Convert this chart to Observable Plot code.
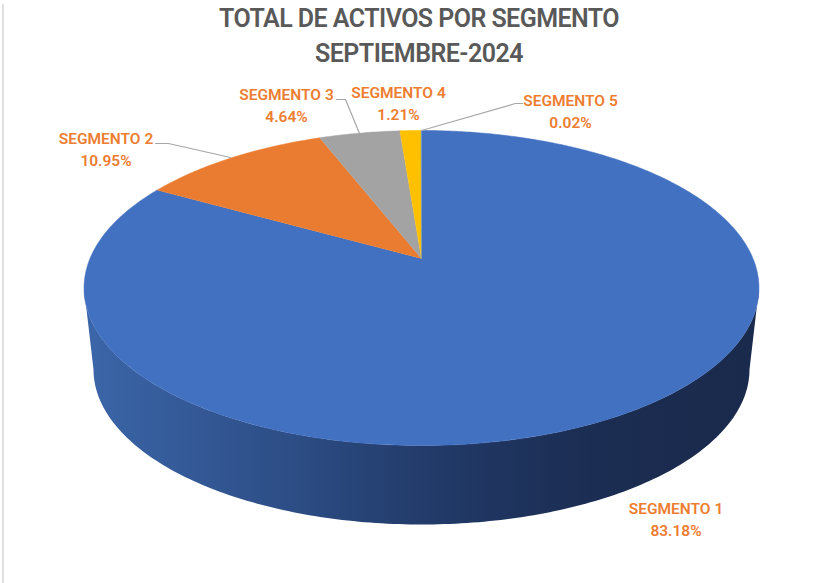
<!DOCTYPE html>
<html>
<head>
<meta charset="utf-8">
<script src="https://cdn.jsdelivr.net/npm/d3@7"></script>
<script src="https://cdn.jsdelivr.net/npm/@observablehq/plot@0.6"></script>
<style>
  html, body { margin: 0; padding: 0; background: #fff; }
  body { width: 838px; height: 583px; overflow: hidden; position: relative; }
  #edge { position: absolute; left: 2px; top: 4px; width: 2px; height: 579px; background: #e0e0e0; z-index: 2; }
  h1 { margin: 0; height: 70px; padding-top: 1px; box-sizing: border-box; text-align: center;
       font: 600 25px/35px Roboto, sans-serif; letter-spacing: -0.55px; color: #595959; }
  svg { display: block; }
</style>
</head>
<body>
<div id="edge"></div>
<h1>TOTAL DE ACTIVOS POR SEGMENTO<br>SEPTIEMBRE-2024</h1>
<div id="chart"></div>
<script>
// Data
const segments = ["SEGMENTO 1", "SEGMENTO 2", "SEGMENTO 3", "SEGMENTO 4", "SEGMENTO 5"];
const shares = [83.18, 10.95, 4.64, 1.21, 0.02];
const colors = ["#4371c1", "#e97c30", "#a3a3a3", "#ffc000", "#5b9bd5"];

// Layout of the tilted pie (page units)
const W = 838, H = 583, TOP = 70;
const apex = {x: 421, y: 258};
const A = 331.5, B = 152, K = 0.1873;             // perspective of the top face
const topRim = {cx: 421, cy: 287.5, rx: 337.5, ry: 157.5};
const botRim = {cx: 421, cy: 369, rx: 328, ry: 155};

const rimPoint = (theta) => {
  const w = 1 + K * Math.cos(theta);
  return [apex.x + A * Math.sin(theta) / w, apex.y - B * Math.cos(theta) / w];
};

// Top-face slices, built from the shares
const slicePoints = [];
let cumulative = 0;
segments.forEach((seg, i) => {
  const a0 = cumulative / 100 * 2 * Math.PI;
  cumulative += shares[i];
  const a1 = cumulative / 100 * 2 * Math.PI;
  const n = Math.max(2, Math.ceil((a1 - a0) * 80));
  slicePoints.push({seg, x: apex.x, y: apex.y});
  for (let k = 0; k <= n; ++k) {
    const [x, y] = rimPoint(a0 + (a1 - a0) * k / n);
    slicePoints.push({seg, x, y});
  }
});

// Side wall: front half of the top rim, back along the front half of the bottom rim
const wallPoints = [];
const STEPS = 180;
for (let k = 0; k <= STEPS; ++k) {
  const t = Math.PI * (1 - k / STEPS);
  wallPoints.push({x: topRim.cx + topRim.rx * Math.cos(t), y: topRim.cy + topRim.ry * Math.sin(t)});
}
for (let k = 0; k <= STEPS; ++k) {
  const t = Math.PI * k / STEPS;
  wallPoints.push({x: botRim.cx + botRim.rx * Math.cos(t), y: botRim.cy + botRim.ry * Math.sin(t)});
}

const wallStops = [[0, "#3b66a9"], [0.17, "#335895"], [0.32, "#2c4c84"], [0.47, "#243e6e"], [0.6, "#1f3560"], [0.75, "#1b2d52"], [1, "#1a2a4c"]];
const wallGradient = () => {
  const defs = d3.create("svg:defs");
  const g = defs.append("linearGradient").attr("id", "wallFill")
    .attr("gradientUnits", "userSpaceOnUse")
    .attr("x1", topRim.cx - topRim.rx).attr("x2", topRim.cx + topRim.rx)
    .attr("y1", 0).attr("y2", 0);
  wallStops.forEach(([o, c]) => g.append("stop").attr("offset", o).attr("stop-color", c));
  return defs.node();
};

// Labels and their leader lines
const labelAt = [
  {x: 675.5, y: 517.5}, {x: 105.5, y: 147.5}, {x: 286, y: 103.5}, {x: 398, y: 101.5}, {x: 570, y: 109}
];
const labels = segments.map((seg, i) => ({
  text: `${seg}\n${shares[i].toFixed(2)}%`, x: labelAt[i].x, y: labelAt[i].y
}));
const leaders = [
  {id: 2, x: 155, y: 143}, {id: 2, x: 168, y: 143}, {id: 2, x: 230, y: 157},
  {id: 3, x: 336, y: 99}, {id: 3, x: 345, y: 99}, {id: 3, x: 359, y: 133},
  {id: 5, x: 421, y: 130}, {id: 5, x: 515, y: 103}, {id: 5, x: 522, y: 103}
];

const chart = Plot.plot({
  width: W,
  height: H - TOP,
  margin: 0,
  style: {background: "#fff", fontFamily: "Roboto, sans-serif"},
  x: {domain: [0, W], range: [0, W], axis: null},
  y: {domain: [TOP, H], range: [0, H - TOP], axis: null},
  color: {domain: segments, range: colors},
  marks: [
    wallGradient,
    Plot.line(wallPoints, {x: "x", y: "y", fill: "url(#wallFill)", stroke: "none"}),
    Plot.line(slicePoints, {x: "x", y: "y", z: "seg", fill: "seg", stroke: "seg", strokeWidth: 0.5}),
    Plot.line(leaders, {x: "x", y: "y", z: "id", stroke: "#a6a6a6", strokeWidth: 1.2}),
    Plot.text(labels, {
      x: "x", y: "y", text: "text", fill: "#ed7d31",
      fontSize: 15.5, fontWeight: 600, lineHeight: 1.42, textAnchor: "middle", lineAnchor: "middle"
    })
  ]
});
document.getElementById("chart").append(chart);
</script>
</body>
</html>
